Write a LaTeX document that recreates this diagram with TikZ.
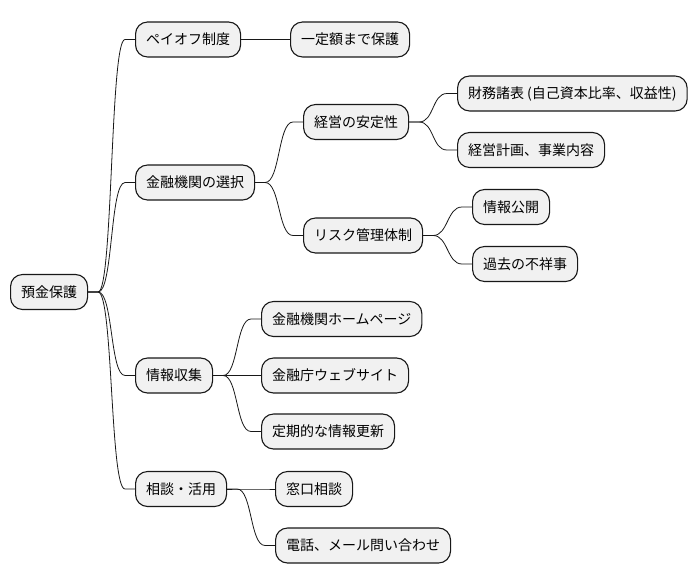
\documentclass[tikz,border=0pt]{standalone}
\usepackage{fontspec}
\setmainfont{Noto Sans CJK JP}
\definecolor{nodefill}{HTML}{F1F1F1}
\definecolor{nodeline}{HTML}{181818}
\tikzset{
  topic/.style={draw=nodeline,fill=nodefill,line width=1.1pt,rounded corners=12pt,
    minimum height=35pt,inner xsep=10.5pt,inner ysep=0pt,anchor=west,
    font=\fontsize{14}{16}\selectfont},
  link/.style={draw=nodeline,line width=0.8pt}
}
\newcommand\linkto[2]{%
  \draw[link] (#1.east) -- ++(10,0) .. controls +(15,0) and ([xshift=-25pt]#2.west)
    .. ([xshift=-10pt]#2.west) -- (#2.west);}
\begin{document}
\begin{tikzpicture}[x=1pt,y=-1pt,line join=round]
  \useasboundingbox (0,0) rectangle (700,583);
  %==Root and first level
  \node[topic] (root) at (10,292) {預金保護};
  \node[topic] (payoff) at (135,39.5) {ペイオフ制度};
  \node[topic] (choice) at (135,182.5) {金融機関の選択};
  \node[topic] (info) at (135,375.5) {情報収集};
  \node[topic] (consult) at (135,489) {相談・活用};
  %==Second level
  \node[topic] (fixed) at (290,39.5) {一定額まで保護};
  \node[topic] (stable) at (303,122) {経営の安定性};
  \node[topic] (risk) at (303,235.5) {リスク管理体制};
  \node[topic] (home) at (261,319) {金融機関ホームページ};
  \node[topic] (fsa) at (261,375.5) {金融庁ウェブサイト};
  \node[topic] (update) at (261,431.5) {定期的な情報更新};
  \node[topic] (window) at (275,489) {窓口相談};
  \node[topic] (phone) at (275,545.5) {電話、メール問い合わせ};
  %==Third level
  \node[topic] (fin) at (457,93.5) {財務諸表 (自己資本比率、収益性)};
  \node[topic] (plan) at (457,150) {経営計画、事業内容};
  \node[topic] (disclose) at (472,207) {情報公開};
  \node[topic] (scandal) at (472,264) {過去の不祥事};
  %==Links
  \foreach \a/\b in {root/payoff,root/choice,root/info,root/consult,
    payoff/fixed,choice/stable,choice/risk,stable/fin,stable/plan,
    risk/disclose,risk/scandal,info/home,info/fsa,info/update,
    consult/window,consult/phone}
    {\linkto{\a}{\b}}
\end{tikzpicture}
\end{document}
